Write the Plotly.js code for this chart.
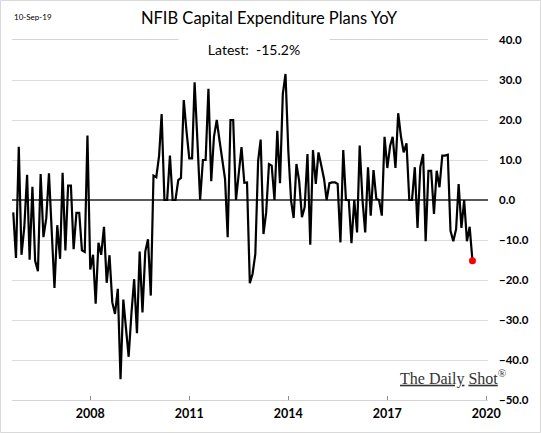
<!DOCTYPE html>
<html>
<head>
<meta charset="utf-8">
<script src="https://cdn.plot.ly/plotly-3.0.1.min.js"></script>
<style>
html,body{margin:0;padding:0;background:#fff;}
#chart{width:541px;height:433px;}
</style>
</head>
<body>
<div id="chart"></div>
<script>
// Monthly series start (first observation) – Sep 2005, last Aug 2019
const startYear = 2005;
const startMonth = 9;

const capexYoY = [
  -3.1, -14.5, 13.3, -13.7, -6.8, 6.3, -14.9, 3.3, -15.2, -17.8,
  6.5, -9.3, -4.6, 6.7, -8.0, -22.0, -6.3, -14.7, 6.8, -12.6,
  3.6, 3.6, -12.3, -3.2, -3.2, -12.6, -13.0, 16.1, -17.4, -13.7,
  -25.9, -10.7, -13.7, -6.7, -20.7, -13.8, -25.6, -28.5, -22.2, -44.8,
  -24.9, -31.7, -39.2, -28.3, -19.8, -33.3, -12.9, -28.1, -12.9, -9.8,
  -23.9, 6.1, 5.7, 11.1, 21.5, 0.0, 0.0, 11.1, 0.0, 0.0,
  5.0, 5.5, 25.0, 17.3, 10.4, 10.4, 29.4, 14.8, 0.0, 10.0,
  10.0, 27.8, 4.7, 15.8, 20.0, 15.0, 10.2, 5.2, -9.3, 20.0,
  20.0, 0.0, 6.5, 13.2, 4.3, 4.4, -20.8, -18.5, -13.5, 9.8,
  15.1, -8.5, -3.1, 9.0, 8.6, 0.0, 17.3, 4.2, 26.5, 31.5,
  12.3, -0.2, -4.5, 9.0, 4.8, -4.3, -1.8, 11.5, -11.2, 12.5,
  4.0, 11.9, 8.6, 5.2, 0.0, 4.2, 4.4, 4.4, 4.0, -10.6,
  12.5, 0.0, 0.0, -10.8, 0.0, -8.1, 13.6, 0.0, -8.1, 8.2,
  -3.9, 7.5, 0.3, 0.0, -3.9, 15.8, 8.0, 13.6, 15.8, 8.0,
  21.7, 15.8, 11.9, 14.2, 0.0, 0.0, 8.2, -7.0, 8.3, 11.5,
  -10.3, 7.3, 7.3, -3.5, 7.3, 3.2, 11.1, 11.1, 11.3, -7.7,
  -10.3, -7.3, 4.0, -7.0, 0.0, -10.3, -6.7, -15.2
];

const xTickVals = ['2008-01-01', '2011-01-01', '2014-01-01', '2017-01-01', '2020-01-01'];
const xTickText = ['2008', '2011', '2014', '2017', '2020'];
const yTickVals = [40, 30, 20, 10, 0, -10, -20, -30, -40, -50];
const yMin = -50, yMax = 40;

const titleText = 'NFIB Capital Expenditure Plans YoY';
const latestText = 'Latest:  -15.2%';
const dateStamp = '10-Sep-19';

// month dates
const dates = capexYoY.map((_, i) => {
  const m0 = startMonth - 1 + i;
  const y = startYear + Math.floor(m0 / 12);
  const m = (m0 % 12) + 1;
  return y + '-' + String(m).padStart(2, '0') + '-01';
});
const lastIdx = capexYoY.length - 1;

const traces = [
  {
    x: dates, y: capexYoY, type: 'scatter', mode: 'lines',
    line: {color: '#000000', width: 2.2}, hoverinfo: 'skip', showlegend: false
  },
  {
    x: [dates[lastIdx]], y: [capexYoY[lastIdx]], type: 'scatter', mode: 'markers',
    marker: {color: '#ff0000', size: 7}, hoverinfo: 'skip', showlegend: false
  }
];

const W = 541, H = 433, L = 12, R = 53, T = 40, B = 33;
const pw = W - L - R, ph = H - T - B;
const px = v => (v - L) / pw;
const py = v => (H - B - v) / ph;

const layout = {
  width: W, height: H,
  margin: {l: L, r: R, t: T, b: B, pad: 0},
  paper_bgcolor: '#ffffff', plot_bgcolor: '#ffffff',
  font: {family: 'Lato, "Open Sans", sans-serif', color: '#000000'},
  showlegend: false,
  title: {
    text: titleText,
    font: {family: 'Lato, sans-serif', size: 16.5, color: '#000000'},
    x: px(269), xref: 'paper', xanchor: 'center',
    y: 1 - 18 / H, yref: 'container', yanchor: 'middle'
  },
  xaxis: {
    type: 'date',
    range: ['2005-08-18', '2020-01-20'],
    tickmode: 'array', tickvals: xTickVals, ticktext: xTickText,
    ticks: 'inside', ticklen: 4, tickwidth: 1, tickcolor: '#8c8c8c',
    showgrid: false, zeroline: false,
    showline: true, mirror: true, linecolor: '#d4d4d4', linewidth: 1,
    tickfont: {family: 'Lato, sans-serif', size: 12.5, color: '#000000', weight: 'bold'},
    ticklabelstandoff: 2
  },
  yaxis: {
    side: 'right',
    range: [yMin, yMax],
    tickmode: 'array', tickvals: yTickVals,
    tickformat: '.1f',
    showgrid: true, gridcolor: '#dcdcdc', gridwidth: 1,
    zeroline: true, zerolinecolor: '#595959', zerolinewidth: 1.5,
    showline: false, ticks: '',
    tickfont: {family: 'Lato, sans-serif', size: 11.5, color: '#000000', weight: 'bold'},
    ticklabelstandoff: 10
  },
  annotations: [
    {
      text: latestText, xref: 'paper', yref: 'paper',
      x: px(254), y: py(49), xanchor: 'center', yanchor: 'middle',
      showarrow: false, bgcolor: '#ffffff', borderpad: 0,
      font: {family: 'Lato, sans-serif', size: 14, color: '#000000'},
      width: 150, height: 24
    },
    {
      text: dateStamp, xref: 'paper', yref: 'paper',
      x: px(12), y: py(17), xanchor: 'left', yanchor: 'middle',
      showarrow: false,
      font: {family: 'Lato, sans-serif', size: 8, color: '#000000'}
    },
    {
      text: '<u>The Daily</u> <u>Shot</u><sup>®</sup>', xref: 'paper', yref: 'paper',
      x: px(398), y: py(377), xanchor: 'left', yanchor: 'middle',
      showarrow: false,
      font: {family: '"Liberation Serif", "DejaVu Serif", serif', size: 16, color: '#333333'}
    }
  ],
  shapes: [
    {
      type: 'rect', xref: 'paper', yref: 'paper',
      x0: px(0.5), x1: px(540.5), y0: py(432.5), y1: py(0.5),
      line: {color: '#d9d9d9', width: 1}, fillcolor: 'rgba(0,0,0,0)', layer: 'below'
    }
  ]
};

Plotly.newPlot('chart', traces, layout, {displayModeBar: false, staticPlot: true});
</script>
</body>
</html>
